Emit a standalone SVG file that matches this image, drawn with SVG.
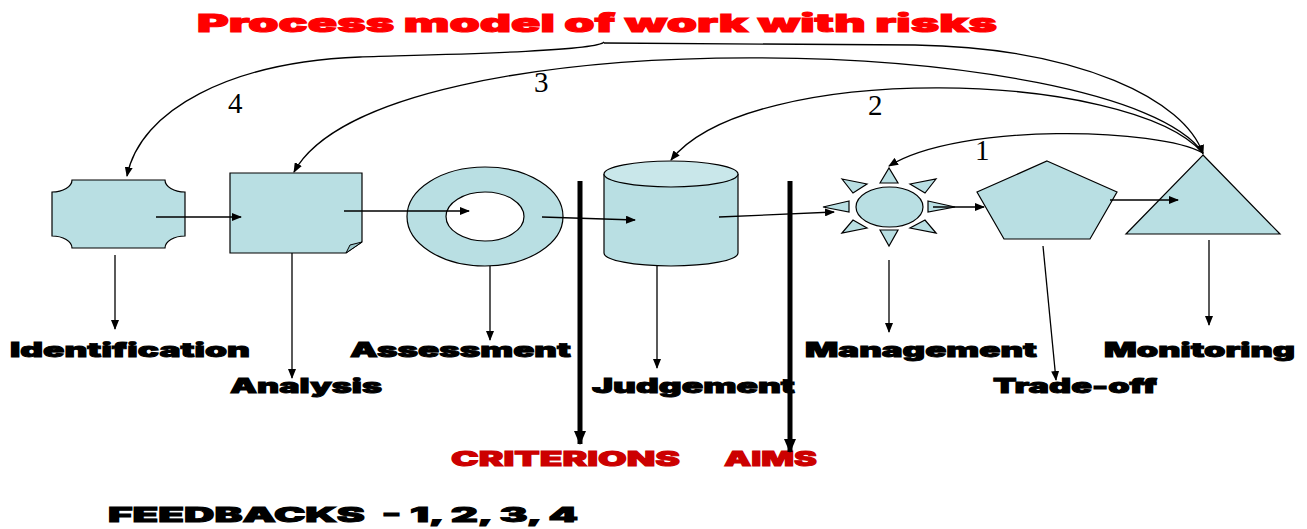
<svg xmlns="http://www.w3.org/2000/svg" width="1307" height="529" viewBox="0 0 1307 529">
<style>
.shape{fill:#b9dfe3;stroke:#000;stroke-width:1.2}
.lbl{font-family:Inter,"DejaVu Sans",sans-serif;font-weight:900;font-size:20px;fill:#000;stroke:#000;stroke-width:0.9}
.red{fill:#cc0000;stroke:#cc0000}
.title{font-family:Inter,"DejaVu Sans",sans-serif;font-weight:900;font-size:25px;fill:#ff0000;stroke:#ff0000;stroke-width:1}
.num{font-family:"Liberation Serif",serif;font-size:29px;fill:#000}
.ln{fill:none;stroke:#000;stroke-width:1.3}
.bar{fill:none;stroke:#000;stroke-width:5}
</style>
<defs>
<marker id="ah" markerWidth="10" markerHeight="8" refX="9" refY="4" orient="auto" markerUnits="userSpaceOnUse">
<path d="M0,0 L10,4 L0,8 Z" fill="#000"/>
</marker>
<marker id="ahb" markerWidth="14" markerHeight="12" refX="13" refY="6" orient="auto" markerUnits="userSpaceOnUse">
<path d="M0,0 L14,6 L0,12 Z" fill="#000"/>
</marker>
</defs>

<text class="title" x="197" y="32" textLength="800" lengthAdjust="spacingAndGlyphs">Process model of work with risks</text>

<g id="identification">
<path class="shape" d="M72,180 L165,180 A20,12 0 0 0 185,192 L185,236 A20,12 0 0 0 165,248 L72,248 A20,12 0 0 0 52,236 L52,192 A20,12 0 0 0 72,180 Z"/>
<text class="lbl" x="10" y="357" textLength="240" lengthAdjust="spacingAndGlyphs">Identification</text>
</g>
<g id="analysis">
<path class="shape" d="M230,173 L362,173 L362,242 L346,253 L230,253 Z"/>
<path d="M346,253 L350,245 L362,242 Z" fill="#9cc8cd" stroke="#000" stroke-width="1"/>
<text class="lbl" x="230" y="393" textLength="152" lengthAdjust="spacingAndGlyphs">Analysis</text>
</g>
<g id="assessment">
<path class="shape" fill-rule="evenodd" d="M407,216.5 A78,49.5 0 1 0 563,216.5 A78,49.5 0 1 0 407,216.5 Z M446,216.5 A39,24.5 0 1 1 524,216.5 A39,24.5 0 1 1 446,216.5 Z"/>
<text class="lbl" x="350" y="357" textLength="221" lengthAdjust="spacingAndGlyphs">Assessment</text>
</g>
<g id="judgement">
<path class="shape" d="M604,174 L604,253 A67,13 0 0 0 738,253 L738,174"/>
<ellipse cx="671" cy="174" rx="67" ry="13" fill="#c9e7ea" stroke="#000" stroke-width="1.2"/>
<text class="lbl" x="592" y="393" textLength="203" lengthAdjust="spacingAndGlyphs">Judgement</text>
</g>
<g id="management">
<ellipse class="shape" cx="889.5" cy="207" rx="33.5" ry="20"/>
<polygon class="shape" points="880,183 889,168 898,183"/>
<polygon class="shape" points="880,230 889,246 898,230"/>
<polygon class="shape" points="849,201 823,207 849,212"/>
<polygon class="shape" points="928,201 955,207 928,212"/>
<polygon class="shape" points="842,179 867,184 853,193"/>
<polygon class="shape" points="910,184 936,179 925,193"/>
<polygon class="shape" points="842,233 853,220 867,228"/>
<polygon class="shape" points="936,233 925,220 910,228"/>
<text class="lbl" x="805" y="357" textLength="232" lengthAdjust="spacingAndGlyphs">Management</text>
</g>
<g id="tradeoff">
<polygon class="shape" points="1047,161 1117,192 1090,239 1004,239 977,192"/>
<text class="lbl" x="993" y="393" textLength="164" lengthAdjust="spacingAndGlyphs">Trade-off</text>
</g>
<g id="monitoring">
<polygon class="shape" points="1203,155 1280,234 1126,234"/>
<text class="lbl" x="1104" y="357" textLength="191" lengthAdjust="spacingAndGlyphs">Monitoring</text>
</g>
<g id="criterions">
<text class="lbl red" x="451" y="466" textLength="229" lengthAdjust="spacingAndGlyphs">CRITERIONS</text>
</g>
<g id="aims">
<text class="lbl red" x="724" y="466" textLength="93" lengthAdjust="spacingAndGlyphs">AIMS</text>
</g>
<text class="lbl" x="108" y="522" textLength="470" lengthAdjust="spacingAndGlyphs" xml:space="preserve">FEEDBACKS  - 1, 2, 3, 4</text>

<g id="connectors">
<line class="ln" x1="156" y1="217" x2="241" y2="217" marker-end="url(#ah)"/>
<line class="ln" x1="344" y1="211" x2="469" y2="211" marker-end="url(#ah)"/>
<line class="ln" x1="542" y1="217" x2="635" y2="220" marker-end="url(#ah)"/>
<line class="ln" x1="719" y1="217" x2="834" y2="212" marker-end="url(#ah)"/>
<line class="ln" x1="933" y1="207" x2="984" y2="207" marker-end="url(#ah)"/>
<line class="ln" x1="1110" y1="200" x2="1178" y2="200" marker-end="url(#ah)"/>

<line class="ln" x1="115" y1="255" x2="115" y2="329" marker-end="url(#ah)"/>
<line class="ln" x1="292" y1="253" x2="292" y2="378" marker-end="url(#ah)"/>
<line class="ln" x1="490" y1="266" x2="490" y2="340" marker-end="url(#ah)"/>
<line class="ln" x1="657" y1="266" x2="657" y2="368" marker-end="url(#ah)"/>
<line class="ln" x1="889" y1="260" x2="889" y2="332" marker-end="url(#ah)"/>
<line class="ln" x1="1043" y1="246" x2="1056" y2="380" marker-end="url(#ah)"/>
<line class="ln" x1="1209" y1="240" x2="1209" y2="325" marker-end="url(#ah)"/>

<line class="bar" x1="580" y1="181" x2="580" y2="444" marker-end="url(#ahb)"/>
<line class="bar" x1="790" y1="181" x2="790" y2="452" marker-end="url(#ahb)"/>

<path class="ln" d="M1203,153 C1160,128 960,122 889,166" marker-end="url(#ah)"/>
<path class="ln" d="M1203,153 C1130,70 750,60 671,160" marker-end="url(#ah)"/>
<path class="ln" d="M1203,153 C1120,32 380,14 294,172" marker-end="url(#ah)"/>
<path class="ln" d="M604,42 C596,52 420,55 360,57 C230,62 140,110 127,176" marker-end="url(#ah)"/>
<path class="ln" d="M604,43 L915,45 C1080,48 1185,100 1203,154" marker-end="url(#ah)"/>
</g>

<text class="num" x="228" y="113">4</text>
<text class="num" x="534" y="92">3</text>
<text class="num" x="868" y="115">2</text>
<text class="num" x="975" y="160">1</text>
</svg>
